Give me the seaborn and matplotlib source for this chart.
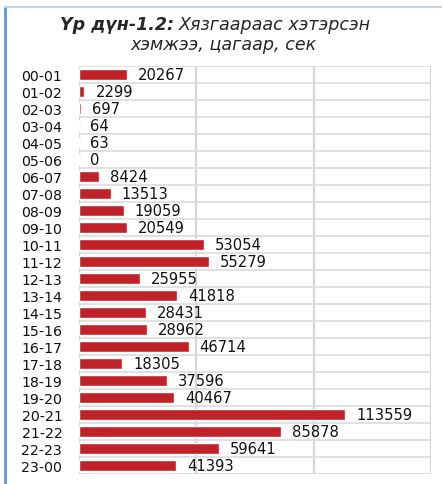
import matplotlib
matplotlib.use("Agg")
import matplotlib.pyplot as plt
import seaborn as sns
import pandas as pd
from matplotlib.lines import Line2D

hours = ["00-01", "01-02", "02-03", "03-04", "04-05", "05-06", "06-07", "07-08",
         "08-09", "09-10", "10-11", "11-12", "12-13", "13-14", "14-15", "15-16",
         "16-17", "17-18", "18-19", "19-20", "20-21", "21-22", "22-23", "23-00"]
values = [20267, 2299, 697, 64, 63, 0, 8424, 13513, 19059, 20549, 53054, 55279,
          25955, 41818, 28431, 28962, 46714, 18305, 37596, 40467, 113559, 85878,
          59641, 41393]

df = pd.DataFrame({"hour": hours, "value": values})

sns.set_theme(style="white")
plt.rcParams['font.family'] = ['DejaVu Sans']

fig = plt.figure(figsize=(4.42, 4.85), dpi=100)
ax = fig.add_axes([79/442, 1-475/485, (431-79)/442, (475-67)/485])

sns.barplot(data=df, x="value", y="hour", color="#C0222A", saturation=1,
            width=0.7, ax=ax, orient="h")

ax.set_xlim(0, 150000)
ax.set_ylim(23.5, -0.5)
ax.set_xticks([0, 50000, 100000, 150000])
ax.set_xticklabels([])
ax.set_yticks(range(len(hours)))
ax.set_yticks([i - 0.5 for i in range(len(hours) + 1)], minor=True)
ax.grid(True, axis="x", which="major", color="#D6D6D6", linewidth=1.6)
ax.grid(True, axis="y", which="minor", color="#DCDCDC", linewidth=1.2)
ax.set_axisbelow(True)
ax.tick_params(axis="y", which="both", length=0, pad=12, labelsize=10.2)
ax.tick_params(axis="x", which="both", length=0)
for lab in ax.get_yticklabels():
    lab.set_color("#111111")
for s in ax.spines.values():
    s.set_visible(False)
ax.set_xlabel("")
ax.set_ylabel("")

for i, v in enumerate(values):
    ax.annotate(f"{v}", xy=(v, i), xytext=(8, 0), textcoords="offset points",
                va="center", ha="left", fontsize=10.6, color="#111111")

t1 = fig.text(60/442, 1-25/485, "Үр дүн-1.2:", ha="left", va="center",
              fontsize=12.6, fontweight="bold", fontstyle="italic")
fig.canvas.draw()
bb = t1.get_window_extent()
fig.text(bb.x1/442 + 0.01, 1-25/485, "Хязгаараас хэтэрсэн", ha="left", va="center",
         fontsize=12.6, fontstyle="italic")
fig.text(224/442, 1-45/485, "хэмжээ, цагаар, сек", ha="center", va="center",
         fontsize=12.6, fontstyle="italic")

# frame lines
fig.add_artist(Line2D([5/442, 5/442], [0, 1-8/485], transform=fig.transFigure,
                      color="#5B9BD5", linewidth=2))
fig.add_artist(Line2D([5/442, 1], [1-8/485, 1-8/485], transform=fig.transFigure,
                      color="#BDD7EE", linewidth=1.5))

fig.savefig("out.png", dpi=100)
